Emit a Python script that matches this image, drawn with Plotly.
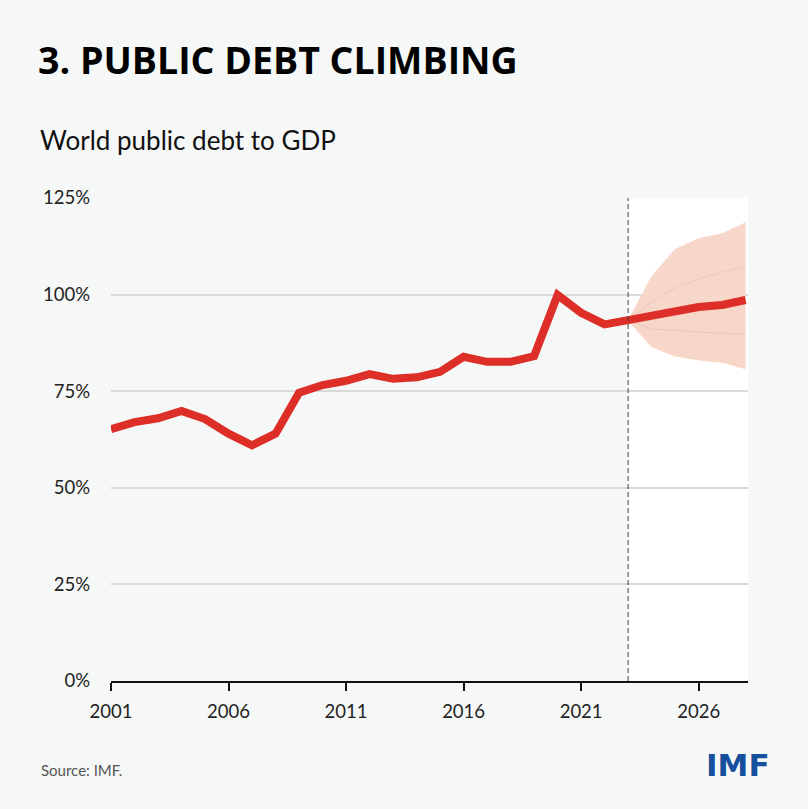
import plotly.graph_objects as go

# ---- data ----
years = list(range(2001, 2029))
debt = [65.2, 67.0, 68.0, 69.9, 67.8, 64.0, 61.0, 64.0, 74.6, 76.6,
        77.7, 79.4, 78.2, 78.6, 80.0, 83.9, 82.6, 82.6, 84.1, 99.9,
        95.3, 92.3, 93.4, 94.5, 95.8, 96.8, 97.3, 98.6]

fan_years = [2023, 2024, 2025, 2026, 2027, 2028]
fan_upper = [93.4, 104.8, 111.8, 114.6, 115.9, 118.7]
fan_lower = [93.4, 86.5, 84.1, 83.1, 82.5, 80.8]
inner_upper = [93.4, 98.0, 101.7, 104.0, 105.8, 107.4]
inner_lower = [93.4, 91.1, 90.8, 90.3, 90.0, 89.8]

forecast_start = 2023
y_ticks = [0, 25, 50, 75, 100, 125]
y_labels = ["0%", "25%", "50%", "75%", "100%", "125%"]
x_ticks = [2001, 2006, 2011, 2016, 2021, 2026]

# ---- layout geometry ----
W, H = 808, 809
L, R, T, B = 111, 60, 198, 128
pw, ph = W - L - R, H - T - B

def px(x):
    return (x - L) / pw

def py(y):
    return (H - B - y) / ph

BG = "#f6f8f7"
RED = "#dd2e27"
FAN = "#f7d7ca"

fig = go.Figure()

# fan chart
fig.add_trace(go.Scatter(x=fan_years, y=fan_lower, mode="lines",
                         line=dict(width=0.8, color="#fbd3b8"), hoverinfo="skip",
                         showlegend=False))
fig.add_trace(go.Scatter(x=fan_years, y=fan_upper, mode="lines", fill="tonexty",
                         fillcolor=FAN, line=dict(width=0, color=FAN),
                         hoverinfo="skip", showlegend=False))
fig.add_trace(go.Scatter(x=fan_years, y=inner_upper, mode="lines",
                         line=dict(width=1, color="rgba(225,160,140,0.3)"),
                         hoverinfo="skip", showlegend=False))
fig.add_trace(go.Scatter(x=fan_years, y=inner_lower, mode="lines",
                         line=dict(width=1, color="rgba(225,160,140,0.3)"),
                         hoverinfo="skip", showlegend=False))

# main line
fig.add_trace(go.Scatter(x=years, y=debt, mode="lines",
                         line=dict(width=8, color=RED, shape="linear"),
                         showlegend=False))

fig.update_layout(
    width=W, height=H,
    margin=dict(l=L, r=R, t=T, b=B, pad=0),
    paper_bgcolor=BG, plot_bgcolor=BG,
    font=dict(family="Lato, 'Open Sans', sans-serif", color="#222"),
    showlegend=False,
    xaxis=dict(range=[2001, 2028.1], tickmode="array", tickvals=x_ticks,
               ticktext=[str(v) for v in x_ticks],
               showgrid=False, zeroline=False,
               showline=True, linecolor="#111", linewidth=2,
               ticks="outside", ticklen=8, tickwidth=2, tickcolor="#111",
               tickfont=dict(size=18.5, color="#222"), ticklabelstandoff=5),
    yaxis=dict(range=[0, 125], tickmode="array", tickvals=y_ticks,
               ticktext=y_labels, showgrid=True, gridcolor="#d9d9d9",
               gridwidth=2, zeroline=False, showline=False, ticks="",
               tickfont=dict(size=18.5, color="#222"), ticklabelstandoff=20),
    shapes=[
        dict(type="rect", xref="x", yref="y", x0=forecast_start, x1=2028.1,
             y0=0, y1=125, fillcolor="white", line=dict(width=0), layer="below"),
        dict(type="line", xref="x", yref="y", x0=forecast_start, x1=forecast_start,
             y0=0, y1=125, line=dict(color="#444", width=1, dash="5px,3px"),
             layer="above"),
    ],
    annotations=[
        dict(text="<b>3. PUBLIC DEBT CLIMBING</b>", xref="paper", yref="paper",
             x=px(36), y=py(59), xanchor="left", yanchor="middle", showarrow=False,
             font=dict(size=37.5, color="#000", family="Open Sans")),
        dict(text="World public debt to GDP", xref="paper", yref="paper",
             x=px(38), y=py(140), xanchor="left", yanchor="middle", showarrow=False,
             font=dict(size=26, color="#111", family="Lato")),
        dict(text="Source: IMF.", xref="paper", yref="paper",
             x=px(39), y=py(770), xanchor="left", yanchor="middle", showarrow=False,
             font=dict(size=15, color="#555", family="Lato")),
        dict(text="<b>IMF</b>", xref="paper", yref="paper",
             x=px(772), y=py(765), xanchor="right", yanchor="middle", showarrow=False,
             font=dict(size=31, color="#164f9e", family="DejaVu Sans")),
    ],
)

fig.write_html("out.html")
